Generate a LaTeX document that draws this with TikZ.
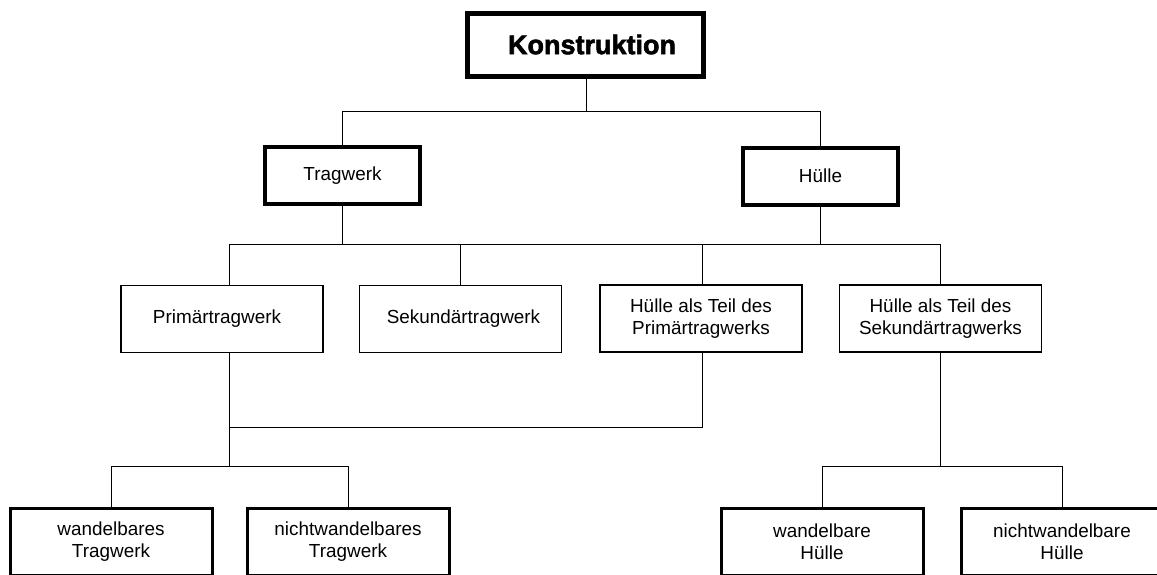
\documentclass[tikz,border=0pt]{standalone}
\usepackage{fontspec}
\setmainfont{Liberation Sans}
\newfontfamily\heavyfont{Liberation Sans Bold}[FakeBold=2.2]
\begin{document}
\begin{tikzpicture}[x=1pt,y=-1pt,
  box/.style={draw=black,fill=white,rectangle,inner sep=0pt,outer sep=0pt,
    align=center,font=\fontsize{18.9}{22.5}\selectfont},
  rootbox/.style={box,line width=5pt,minimum width=236pt,minimum height=63pt,
    font=\heavyfont\fontsize{27}{30}\selectfont},
  mainbox/.style={box,line width=4pt,minimum width=155pt,minimum height=57pt},
  midbox/.style={box,line width=1.2pt,minimum width=202pt,minimum height=67pt},
  leafbox/.style={box,line width=3pt,minimum width=202pt,minimum height=67pt},
  link/.style={draw=black,line width=1pt}]
\clip (0,0) rectangle (1157,574);
\fill[white] (0,0) rectangle (1157,574);

% top level
\node[rootbox] (K) at (585,44.5) {\hspace{14pt}Konstruktion};

% second level
\node[mainbox] (T) at (342.5,175.5) {\raisebox{-2pt}{Tragwerk}};
\node[mainbox] (H) at (820.5,176) {\raisebox{-1pt}{Hülle}};

% third level
\node[midbox] (P)  at (222,319)   {Primärtragwerk\hspace{10pt}};
\node[midbox] (S)  at (460.5,319) {\hspace{6pt}Sekundärtragwerk};
\node[midbox] (HP) at (701,318.5) {Hülle als Teil des\\Primärtragwerks};
\node[midbox] (HS) at (940.5,318.5) {Hülle als Teil des\\Sekundärtragwerks};

% bottom level
\node[leafbox] (WT) at (111,541.5)  {wandelbares\\Tragwerk};
\node[leafbox] (NT) at (348,541.5)  {nichtwandelbares\\Tragwerk};
\node[leafbox] (WH) at (822,541.5)  {wandelbare\\Hülle};
\node[leafbox] (NH) at (1062,541.5) {nichtwandelbare\\Hülle};

% junction points of the bus lines
\coordinate (b1) at (586,111.5);
\coordinate (s1) at (229,244);
\coordinate (s2) at (460,244);
\coordinate (s3) at (702,244);
\coordinate (s4) at (940,244);
\coordinate (m)  at (229,427);
\coordinate (n)  at (229,466.5);
\coordinate (r)  at (940,466.5);

% Konstruktion -> Tragwerk / Hülle
\draw[link] (K.south -| b1) -- (b1);
\draw[link] (T.north) |- (b1) -| (H.north);

% Tragwerk / Hülle -> third level
\draw[link] (s1) -- (s4);
\draw[link] (T.south) -- (T.south |- s1);
\draw[link] (H.south) -- (H.south |- s1);
\draw[link] (s1) -- (s1 |- P.north);
\draw[link] (s2) -- (s2 |- S.north);
\draw[link] (s3) -- (s3 |- HP.north);
\draw[link] (s4) -- (s4 |- HS.north);

% Primärtragwerk + Hülle als Teil des Primärtragwerks -> Tragwerk variants
\draw[link] (m |- P.south) -- (m) -- (m -| s3) -- (s3 |- HP.south);
\draw[link] (m) -- (n);
\draw[link] (WT.north) |- (n) -| (NT.north);

% Hülle als Teil des Sekundärtragwerks -> Hülle variants
\draw[link] (HS.south -| r) -- (r);
\draw[link] (WH.north) |- (r) -| (NH.north);
\end{tikzpicture}
\end{document}
